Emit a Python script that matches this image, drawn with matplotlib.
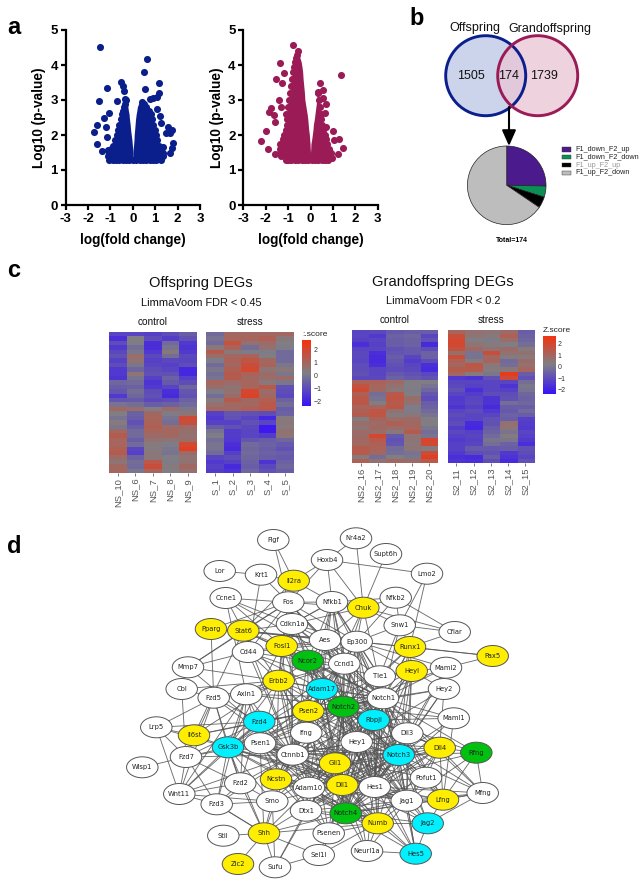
import matplotlib
matplotlib.use("Agg")
import matplotlib.pyplot as plt
from matplotlib.colors import LinearSegmentedColormap
from matplotlib.patches import Circle, Ellipse, Rectangle

plt.rcParams['font.family'] = ['Liberation Sans', 'DejaVu Sans']
plt.rcParams['axes.unicode_minus'] = False

W, H = 639, 886

###### PANEL A DATA ######
off_x = [-1.46, 0.65, 0.51, 1.19, -0.55, -0.43, -0.39, -1.16, 0.55, -1.49, -0.36, -0.73, -1.07, -1.28,
         -1.62, -1.73, -1.19, -1.15, -1.59, -1.40, 1.18, 1.06, 0.91, 0.76, 1.06, 1.21, 1.24, 1.55, 1.74,
         1.46, 1.68, 1.80, 1.77, 1.65, 1.35, -1.09]
off_y = [4.51, 4.17, 3.81, 3.50, 3.51, 3.40, 3.27, 3.33, 3.31, 2.96, 3.02, 2.97, 2.64, 2.48,
         2.28, 2.09, 2.22, 1.93, 1.75, 1.55, 3.19, 3.10, 3.05, 3.02, 2.73, 2.54, 2.33, 2.22, 2.14,
         2.05, 2.05, 1.78, 1.62, 1.50, 1.67, 1.57]
# extent of the solid mass of points, per p-value level
off_left_y = [1.3, 1.4, 1.5, 1.6, 1.7, 1.85, 2.0, 2.15, 2.3, 2.45, 2.6, 2.7, 2.8, 2.9, 3.0]
off_left_lo = [-1.05, -1.1, -1.08, -0.98, -0.88, -0.8, -0.73, -0.66, -0.6, -0.55, -0.5, -0.45, -0.4, -0.35, -0.3]
off_left_hi = [0.0, 0.0, 0.0, -0.01, -0.02, -0.04, -0.07, -0.1, -0.12, -0.15, -0.17, -0.2, -0.22, -0.25, -0.28]
off_right_y = [1.3, 1.4, 1.5, 1.6, 1.7, 1.85, 2.0, 2.15, 2.3, 2.45, 2.6, 2.7, 2.8, 2.9, 2.95]
off_right_lo = [0.0, 0.0, 0.0, 0.01, 0.03, 0.05, 0.06, 0.08, 0.1, 0.12, 0.15, 0.18, 0.2, 0.26, 0.32]
off_right_hi = [1.25, 1.33, 1.35, 1.25, 1.15, 1.08, 1.03, 0.97, 0.92, 0.87, 0.83, 0.72, 0.6, 0.5, 0.42]
off_base_x = [-0.9, -0.75, -0.6, -0.45, -0.3, -0.15, 0.0, 0.15, 0.3, 0.45, 0.6, 0.75, 0.9, 1.05]

gra_x = [-0.80, -0.55, -1.37, -1.19, -1.52, 1.35, 0.43, -1.26, -1.77, -1.85, -1.64, -1.59, -1.99, -2.22,
         -1.89, -1.59, -1.40, -1.32, 0.68, 0.64, 0.68, 1.01, 1.28, 1.06, 1.43, 1.24, 0.94, 0.54, 0.34, 0.54]
gra_y = [4.56, 4.40, 4.07, 3.76, 3.61, 3.72, 3.49, 3.50, 2.77, 2.66, 2.57, 2.38, 2.12, 1.83,
         1.61, 1.45, 3.00, 2.81, 2.89, 2.64, 2.24, 2.12, 1.90, 1.86, 1.63, 1.46, 1.33, 3.29, 3.24, 3.05]
gra_left_y = [1.3, 1.4, 1.5, 1.6, 1.75, 1.9, 2.0, 2.15, 2.3, 2.45, 2.6, 2.8, 3.0, 3.2, 3.4, 3.6, 3.8, 3.95, 4.1, 4.2, 4.3]
gra_left_lo = [-1.1, -1.3, -1.35, -1.38, -1.38, -1.25, -1.18, -1.1, -1.05, -1.05, -1.08, -1.0, -0.95, -0.9, -0.85,
               -0.82, -0.78, -0.74, -0.7, -0.66, -0.62]
gra_left_hi = [0.0, 0.0, 0.0, -0.01, -0.02, -0.04, -0.05, -0.08, -0.1, -0.12, -0.15, -0.2, -0.25, -0.27, -0.3,
               -0.33, -0.35, -0.38, -0.42, -0.47, -0.52]
gra_right_y = [1.3, 1.4, 1.5, 1.6, 1.75, 1.9, 2.0, 2.15, 2.3, 2.45, 2.6, 2.8, 3.0, 3.2]
gra_right_lo = [0.0, 0.0, 0.0, 0.01, 0.02, 0.06, 0.08, 0.11, 0.13, 0.17, 0.2, 0.24, 0.28, 0.3]
gra_right_hi = [0.8, 0.88, 0.9, 0.82, 0.74, 0.68, 0.64, 0.56, 0.5, 0.47, 0.45, 0.42, 0.38, 0.35]
gra_base_x = [-1.0, -0.85, -0.7, -0.55, -0.4, -0.25, -0.1, 0.05, 0.2, 0.35, 0.5, 0.65]
base_y = 1.3

###### PANEL B DATA ######
venn_counts = [1505, 174, 1739]
pie_names = ['F1_down_F2_up', 'F1_down_F2_down', 'F1_up_F2_up', 'F1_up_F2_down']
pie_values = [44, 8, 8, 114]
pie_colors = ['#4b1a8c', '#0b8f55', '#000000', '#bdbdbd']

###### PANEL C DATA ######
off_ctrl_names = ['NS_10', 'NS_6', 'NS_7', 'NS_8', 'NS_9']
off_ctrl = [[-1.2, -1.2, -1.3, -1.0, -0.6], [-1.7, 0.2, -1.0, -1.4, -0.9], [-1.0, 0.1, -1.7, -0.3, -1.5],
            [-1.5, -0.2, -1.7, -0.1, -1.6], [-1.1, 0.0, -1.5, 0.4, -1.5], [-0.9, 0.7, -1.1, -0.2, -1.1],
            [-1.3, 0.6, -1.3, -1.1, -1.2], [-1.0, 0.0, -1.2, -1.3, -1.0], [-1.5, -0.4, -1.0, -1.2, -1.9],
            [-1.5, 0.5, -0.9, -0.9, -1.9], [-1.6, -0.1, -1.3, -0.5, -1.3], [-0.4, -0.3, -1.6, -0.7, -1.0],
            [-0.6, -0.5, -1.5, -1.2, -0.4], [-0.8, -0.2, -1.0, -1.7, -0.8], [-1.5, -0.4, -0.9, -1.8, -0.9],
            [-0.8, -0.7, -1.1, -1.0, -0.5], [-0.1, -0.2, -0.6, -0.5, -0.3], [0.9, 0.7, 0.2, 0.8, 0.0],
            [0.2, -0.5, 0.9, 0.1, 0.5], [-0.1, -0.6, 1.0, -0.1, 1.8], [0.3, -0.9, 1.1, -0.2, 1.7],
            [0.0, -0.6, 1.2, 0.8, 0.8], [0.9, -0.3, 1.0, 1.0, 0.7], [1.3, -0.3, 0.8, 0.9, 0.6],
            [1.0, -0.6, 0.6, 0.5, 0.7], [1.0, -0.3, 0.3, 0.1, 1.9], [1.2, -1.2, 0.3, 0.0, 2.2],
            [1.3, -1.3, 0.4, -0.1, 0.8], [0.8, -0.5, 0.4, 0.2, 0.5], [0.5, -0.2, 1.4, 0.1, 0.6],
            [0.9, -0.3, 1.7, 0.3, 0.9], [1.0, 0.0, 1.0, 0.2, 0.6]]
off_str_names = ['S_1', 'S_2', 'S_3', 'S_4', 'S_5']
off_str = [[-0.3, 0.9, 0.9, 0.9, 0.9], [-0.1, 1.0, 1.0, 1.2, 0.4], [-0.3, 1.6, 0.6, 0.8, 0.2],
           [0.4, 1.1, -0.2, 0.6, 0.1], [1.3, 0.4, 0.1, 0.1, -0.3], [0.7, 0.9, 1.1, 0.2, -0.3],
           [0.1, 1.1, 1.5, 0.9, -0.3], [-0.3, 0.9, 1.7, 1.1, 0.0], [0.0, 1.2, 1.9, 0.5, 0.4],
           [-0.2, 1.3, 1.1, 0.8, 0.0], [-0.1, 1.3, 0.9, 0.7, 0.8], [1.0, 0.8, 1.0, 0.4, 0.0],
           [0.7, 0.5, 1.0, 1.4, -0.9], [0.1, 0.6, 2.0, 0.8, -1.0], [-0.2, 0.8, 2.1, 0.9, -1.1],
           [0.3, 1.3, 0.9, 1.2, -0.5], [0.6, 0.9, 0.9, 1.4, -0.2], [1.0, 0.9, 1.2, 1.4, -0.6],
           [-1.3, -0.8, -0.9, -1.0, -0.5], [-1.5, -0.9, -1.2, -1.9, 0.3], [-1.3, -1.3, -0.9, -1.2, 0.4],
           [-0.6, -0.9, -1.1, -2.2, 0.3], [-0.1, -1.4, -1.2, -2.2, 0.6], [0.1, -1.4, -1.2, -1.4, 0.5],
           [-0.2, -1.5, -0.8, -0.6, -0.4], [-0.1, -1.7, -0.3, -0.5, -0.7], [-0.1, -1.8, -0.4, -0.6, -0.9],
           [-0.3, -1.3, -0.3, -0.5, -0.6], [-1.2, -1.0, -0.4, -0.6, -0.7], [-1.5, -1.3, -0.5, -1.6, -0.5],
           [-1.3, -1.8, -0.6, -1.1, -0.4], [-1.4, -1.6, -0.4, -0.9, -0.6]]
gra_ctrl_names = ['NS2_16', 'NS2_17', 'NS2_18', 'NS2_19', 'NS2_20']
gra_ctrl = [[-1.2, -1.1, -0.7, -0.6, -0.6], [-1.2, -1.5, -0.5, -0.4, -1.2], [-1.3, -1.2, -0.6, -0.5, -0.9],
            [-1.7, -1.3, -0.6, -0.5, -1.8], [-1.2, -1.2, -0.9, -0.7, -1.0], [-1.1, -1.7, -0.8, -0.7, -0.5],
            [-1.1, -1.8, -0.6, -1.2, -0.5], [-1.2, -1.8, -0.8, -1.4, -1.0], [-1.0, -1.7, -0.9, -1.2, -1.7],
            [-1.0, -1.2, -1.0, -1.1, -1.8], [-0.9, -1.2, -0.7, -0.9, -1.1], [-1.1, -1.1, -0.5, -0.7, -0.9],
            [1.1, 1.1, 0.8, 0.2, 0.2], [1.6, 1.0, 0.6, 0.2, -0.1], [1.8, 0.9, 0.4, 0.1, -0.4],
            [1.2, -0.2, 1.4, 0.2, -0.8], [1.4, -0.1, 1.5, 0.7, -1.0], [1.5, 0.2, 1.3, 0.6, -0.6],
            [1.0, 1.0, 1.5, 0.1, -0.5], [1.2, 1.5, 0.6, 0.1, -0.3], [1.3, 1.5, 0.3, 0.4, -0.1],
            [0.2, 1.1, 0.7, 0.8, 0.2], [0.7, 0.8, 1.2, 0.9, 0.2], [0.5, 0.9, 0.7, 1.0, 0.0],
            [0.8, 0.7, 0.4, 1.3, -0.2], [0.8, 2.0, -0.7, 0.5, -0.1], [0.9, 1.3, -0.9, 0.5, 2.0],
            [0.9, 1.2, -0.8, 0.4, 1.9], [1.3, 1.1, -0.3, 0.5, 0.3], [1.4, 0.9, -0.2, -0.1, 1.7],
            [0.3, -0.2, 0.2, 0.0, 2.2], [1.2, 0.6, 0.9, 0.8, 1.4]]
gra_str_names = ['S2_11', 'S2_12', 'S2_13', 'S2_14', 'S2_15']
gra_str = [[1.0, 0.6, 0.5, 0.8, -0.6], [1.7, 0.5, 0.4, 1.2, -0.5], [1.9, 0.2, 0.1, 0.7, -0.4],
           [1.9, 0.5, 0.3, 0.2, -0.2], [1.6, 0.9, 0.6, 0.8, 0.3], [0.7, -0.1, 1.7, 0.6, 0.6],
           [1.7, -0.1, 0.9, 0.3, 0.3], [1.2, 0.3, 1.1, -0.3, 0.8], [0.9, 1.5, 0.4, -0.2, 0.6],
           [1.3, 1.3, 0.3, 0.4, 1.0], [0.9, 0.3, 0.0, 2.3, -0.6], [-1.5, -1.6, -0.9, 1.8, -0.9],
           [-1.2, -1.2, -1.2, -1.2, -0.2], [-1.1, -1.3, -1.2, -1.6, 0.0], [-0.9, -1.7, -1.2, -1.3, -0.1],
           [-1.2, -1.4, -1.0, -1.0, -0.4], [-1.5, -1.2, -1.6, -0.9, -0.5], [-1.4, -1.1, -1.6, -0.2, -0.4],
           [-1.6, -1.3, -1.8, -0.6, -0.6], [-1.2, -1.0, -1.5, -0.7, -0.3], [-1.0, -1.2, -1.2, -0.5, -0.6],
           [-1.2, -1.2, -0.9, -0.6, -1.3], [-1.0, -1.8, -0.9, 0.6, -1.4], [-1.4, -1.9, -0.6, 0.5, -1.5],
           [-1.1, -1.3, -0.5, -0.1, -1.2], [-1.3, -1.2, -0.3, 0.3, -1.3], [-1.5, -1.3, -0.1, 0.0, -1.5],
           [-1.3, -1.2, -0.2, -0.5, -1.7], [-1.3, -0.7, -0.7, -0.6, -0.9], [-1.5, -1.0, -0.9, -1.5, -1.0],
           [-1.7, -1.8, -0.6, -1.6, -1.2], [-1.6, -1.7, -1.0, -1.8, -0.9]]
z_ticks = [2, 1, 0, -1, -2]
z_ramp = [-2.35 + i * 0.1 for i in range(51)]

###### PANEL D DATA ######
node_names = ['Figf', 'Lor', 'Krt1', 'Il2ra', 'Ccne1', 'Fos', 'Nfkb1', 'Hoxb4', 'Cdkn1a', 'Pparg', 'Stat6', 'Aes',
              'Cd44', 'Fosl1', 'Ncor2', 'Mmp7', 'Erbb2', 'Adam17', 'Cbl', 'Fzd5', 'Axin1', 'Nr4a2', 'Supt6h', 'Lmo2',
              'Chuk', 'Nfkb2', 'Snw1', 'Cflar', 'Ep300', 'Runx1', 'Pax5', 'Ccnd1', 'Heyl', 'Maml2', 'Tle1', 'Hey2',
              'Notch1', 'Notch2', 'Psen2', 'Fzd4', 'Lrp5', 'Il6st', 'Ifng', 'Psen1', 'Gsk3b', 'Ctnnb1', 'Fzd7', 'Wisp1',
              'Fzd2', 'Ncstn', 'Adam10', 'Wnt11', 'Fzd3', 'Smo', 'Dtx1', 'Shh', 'Stil', 'Psenen', 'Sel1l', 'Zic2',
              'Sufu', 'Rbpjl', 'Maml1', 'Dll3', 'Hey1', 'Dll4', 'Rfng', 'Notch3', 'Gli1', 'Pofut1', 'Dll1', 'Hes1',
              'Mfng', 'Jag1', 'Lfng', 'Notch4', 'Numb', 'Jag2', 'Neurl1a', 'Hes5']
node_x = [273.3, 219.7, 261.0, 293.7, 225.7, 288.3, 332.0, 327.0, 292.0, 211.0, 243.3, 325.0,
          248.0, 281.7, 307.7, 188.0, 278.7, 322.0, 181.7, 213.7, 246.3, 356.0, 386.0, 427.0,
          363.3, 395.7, 399.7, 454.7, 356.7, 410.0, 492.7, 344.3, 411.7, 446.0, 379.7, 444.0,
          383.0, 343.3, 308.3, 259.3, 156.3, 194.0, 306.3, 260.0, 228.0, 292.7, 186.0, 142.3,
          240.3, 276.0, 309.0, 179.3, 216.7, 272.3, 306.0, 264.0, 223.3, 328.7, 318.7, 238.0,
          275.0, 373.7, 453.7, 407.3, 356.7, 439.7, 476.3, 398.7, 335.0, 426.0, 342.3, 374.7,
          482.7, 406.7, 443.0, 345.7, 377.7, 427.7, 367.0, 415.7]
node_y = [540.0, 571.0, 574.7, 580.7, 598.0, 602.3, 602.0, 560.0, 624.0, 629.0, 630.7, 640.0,
          652.0, 646.0, 660.7, 667.3, 680.7, 689.0, 689.0, 697.7, 694.3, 538.3, 554.0, 573.7,
          607.7, 597.7, 625.3, 632.0, 641.7, 647.0, 656.0, 663.7, 671.0, 667.7, 676.3, 689.0,
          698.3, 706.7, 711.0, 721.7, 727.3, 735.3, 732.7, 743.3, 747.3, 754.7, 757.0, 767.3,
          783.3, 779.3, 787.7, 794.0, 804.3, 801.3, 810.7, 833.3, 835.7, 833.3, 855.0, 864.0,
          867.3, 720.0, 718.3, 733.3, 742.0, 747.7, 752.7, 755.0, 763.3, 777.7, 785.0, 787.0,
          793.0, 800.7, 799.7, 813.3, 823.3, 823.3, 851.0, 853.7]
yellow_nodes = ['Il2ra', 'Pparg', 'Stat6', 'Fosl1', 'Erbb2', 'Chuk', 'Runx1', 'Pax5', 'Heyl', 'Psen2', 'Il6st',
                'Ncstn', 'Shh', 'Zic2', 'Dll4', 'Gli1', 'Dll1', 'Lfng', 'Numb']
green_nodes = ['Ncor2', 'Notch2', 'Rfng', 'Notch4']
cyan_nodes = ['Adam17', 'Fzd4', 'Gsk3b', 'Rbpjl', 'Notch3', 'Jag2', 'Hes5']
edges = {
    'Figf': 'Il2ra Fos', 'Lor': 'Krt1', 'Krt1': 'Il2ra Fos Cd44',
    'Il2ra': 'Hoxb4 Stat6 Fos Nfkb1', 'Ccne1': 'Fos Cdkn1a Stat6 Ccnd1 Axin1 Fosl1',
    'Pparg': 'Stat6 Fos Fzd5 Ep300', 'Mmp7': 'Fos Stat6 Erbb2 Cd44 Ctnnb1',
    'Cbl': 'Erbb2 Fzd5 Fzd7', 'Nr4a2': 'Hoxb4 Chuk', 'Supt6h': 'Chuk',
    'Hoxb4': 'Lmo2 Nfkb1 Chuk Fos', 'Lmo2': 'Snw1 Runx1',
    'Nfkb2': 'Chuk Cflar Ep300 Nfkb1 Snw1', 'Snw1': 'Cflar Chuk Ep300 Notch1 Tle1 Runx1',
    'Chuk': 'Cflar Nfkb1 Fos Ep300 Ccnd1 Notch1 Ctnnb1 Cdkn1a Aes', 'Cflar': 'Runx1',
    'Pax5': 'Runx1 Maml2 Ep300', 'Maml2': 'Notch1 Notch2 Notch3 Heyl Ep300 Dll3',
    'Hey2': 'Notch1 Notch2 Notch3 Heyl Hes1 Hey1 Dll4',
    'Maml1': 'Notch1 Notch2 Notch3 Notch4 Rbpjl Lfng',
    'Rfng': 'Lfng Dll4 Mfng Notch1 Notch3 Notch2 Jag1 Dll1', 'Mfng': 'Lfng Dll4 Notch1 Notch2 Notch3 Notch4 Jag1 Dll1 Jag2',
    'Lfng': 'Dll4 Notch1 Notch2 Notch3 Notch4 Jag1 Jag2 Dll1 Dll3 Hes1',
    'Pofut1': 'Notch1 Notch2 Notch3 Notch4 Dll1 Lfng Dll4 Jag1 Psen1',
    'Hes5': 'Jag1 Jag2 Notch1 Notch3 Notch2 Numb Neurl1a Hes1 Notch4 Dll1',
    'Neurl1a': 'Numb Notch1 Notch2 Dll1 Notch4 Jag1', 'Jag2': 'Notch1 Notch2 Notch3 Notch4 Jag1 Numb Hes1 Psen1',
    'Shh': 'Stil Zic2 Sufu Sel1l Smo Fzd2 Fzd3 Gsk3b Gli1 Ctnnb1 Notch4 Dll1 Numb Psen1',
    'Sufu': 'Sel1l Gli1 Smo Dtx1', 'Sel1l': 'Notch1 Notch4 Numb', 'Psenen': 'Psen1 Psen2 Notch1 Notch2 Notch3 Ncstn Adam10 Numb Dll1',
    'Wisp1': 'Fzd7', 'Lrp5': 'Il6st Wnt11 Fzd7 Fzd4 Gsk3b Fzd5', 'Il6st': 'Fzd4 Gsk3b Stat6 Erbb2 Notch1',
    'Fzd7': 'Gsk3b Wnt11 Fzd3 Fzd4 Fzd5 Ctnnb1 Fzd2 Psen1',
    'Wnt11': 'Fzd3 Fzd2 Fzd4 Fzd5 Gsk3b Ctnnb1 Smo Axin1', 'Fzd3': 'Gsk3b Shh Fzd2 Ctnnb1 Smo Axin1',
    'Fzd2': 'Gsk3b Ctnnb1 Fzd4 Smo Axin1 Fzd5', 'Fzd5': 'Gsk3b Ctnnb1 Axin1 Fzd4 Erbb2',
    'Fzd4': 'Gsk3b Ctnnb1 Axin1 Notch1 Notch2 Psen1', 'Axin1': 'Gsk3b Ctnnb1 Psen1 Erbb2 Notch1 Ccnd1 Notch2',
    'Smo': 'Gli1 Ctnnb1 Gsk3b Notch1 Dll1', 'Gsk3b': 'Ctnnb1 Psen1 Psen2 Notch1 Notch2 Notch3 Erbb2 Ccnd1 Dll1 Notch4 Fosl1 Adam17 Hes1 Numb Jag1',
    'Cd44': 'Fos Erbb2 Ctnnb1 Stat6 Fosl1 Notch1 Adam17 Ep300 Ncor2',
    'Stat6': 'Fos Cdkn1a Fosl1 Ep300 Ncor2 Erbb2 Ctnnb1 Notch1 Aes', 'Fos': 'Nfkb1 Cdkn1a Fosl1 Ep300 Ccnd1 Ctnnb1 Notch1 Erbb2 Aes Ncor2',
    'Cdkn1a': 'Nfkb1 Fosl1 Ep300 Ccnd1 Ctnnb1 Notch1 Erbb2 Aes Ncor2 Notch2',
    'Fosl1': 'Ep300 Ncor2 Erbb2 Ccnd1 Ctnnb1 Notch1 Adam17 Notch2 Psen2 Aes',
    'Nfkb1': 'Ep300 Ccnd1 Notch1 Notch2 Ctnnb1 Ncor2 Aes Hes1 Tle1 Adam17 Cdkn1a',
    'Aes': 'Ep300 Notch1 Notch2 Tle1 Ncor2 Hes1 Hey1 Adam17 Psen2 Rbpjl',
    'Ep300': 'Ccnd1 Notch1 Notch2 Notch3 Notch4 Ctnnb1 Ncor2 Hes1 Hey1 Runx1 Tle1 Heyl Rbpjl Gli1 Adam17',
    'Ccnd1': 'Notch1 Notch2 Ctnnb1 Ncor2 Erbb2 Adam17 Psen2 Rbpjl Hes1 Notch3 Gli1 Dll1',
    'Runx1': 'Notch1 Tle1 Notch2 Heyl Notch3 Hes1 Rbpjl',
    'Heyl': 'Notch1 Notch2 Notch3 Hes1 Hey1 Tle1 Dll3 Jag1 Rbpjl Notch4',
    'Tle1': 'Notch1 Notch2 Notch3 Ncor2 Hes1 Hey1 Rbpjl Notch4 Adam17 Psen2',
    'Ncor2': 'Notch1 Notch2 Notch3 Rbpjl Hes1 Hey1 Adam17 Erbb2 Ctnnb1 Psen2 Notch4 Gli1',
    'Erbb2': 'Notch1 Notch2 Adam17 Psen1 Psen2 Ctnnb1 Ncstn Adam10 Ifng Notch4 Notch3 Hes1',
    'Adam17': 'Notch1 Notch2 Notch3 Notch4 Psen1 Psen2 Adam10 Ncstn Ifng Rbpjl Ctnnb1 Hes1 Dll1 Jag1 Gli1',
    'Psen2': 'Psen1 Notch1 Notch2 Notch3 Notch4 Ncstn Adam10 Ctnnb1 Ifng Rbpjl Hey1 Jag1 Dll1 Dtx1',
    'Psen1': 'Notch1 Notch2 Notch3 Notch4 Ncstn Adam10 Ctnnb1 Ifng Jag1 Dll1 Numb Dtx1 Hes1 Gli1',
    'Ifng': 'Notch1 Notch2 Notch3 Ctnnb1 Hes1 Dll1 Jag1',
    'Ctnnb1': 'Notch1 Notch2 Notch3 Notch4 Adam10 Ncstn Gli1 Hes1 Hey1 Dll1 Dll3 Dll4 Jag1 Numb Dtx1 Rbpjl',
    'Ncstn': 'Notch1 Notch2 Notch3 Notch4 Adam10 Jag1 Dll1 Gli1 Numb',
    'Adam10': 'Notch1 Notch2 Notch3 Notch4 Jag1 Dll1 Dll3 Dll4 Gli1 Dtx1 Hes1 Numb',
    'Dtx1': 'Notch1 Notch2 Notch3 Notch4 Dll1 Numb Hes1 Jag1 Rbpjl',
    'Notch1': 'Notch2 Notch3 Notch4 Rbpjl Dll1 Dll3 Dll4 Jag1 Hes1 Hey1 Numb Gli1',
    'Notch2': 'Notch3 Notch4 Rbpjl Dll1 Dll3 Dll4 Jag1 Hes1 Hey1 Numb Gli1',
    'Notch3': 'Notch4 Rbpjl Dll1 Dll3 Dll4 Jag1 Hes1 Hey1 Numb Gli1',
    'Notch4': 'Rbpjl Dll1 Dll3 Dll4 Jag1 Hes1 Hey1 Numb Gli1',
    'Rbpjl': 'Dll1 Dll3 Dll4 Jag1 Hes1 Hey1 Gli1 Numb',
    'Dll3': 'Dll1 Dll4 Jag1 Hes1 Hey1', 'Dll4': 'Dll1 Jag1 Hes1 Hey1 Numb',
    'Hey1': 'Hes1 Dll1 Jag1 Gli1', 'Gli1': 'Dll1 Hes1 Numb', 'Dll1': 'Jag1 Hes1 Numb', 'Hes1': 'Jag1 Numb', 'Jag1': 'Numb',
}


def px_axes(x0, y0, x1, y1):
    return fig.add_axes([x0 / W, 1 - y1 / H, (x1 - x0) / W, (y1 - y0) / H])


def volcano(box, color, xs, ys, base_x, left, right):
    ax = px_axes(*box)
    # solid mass is a band, only its outer rim and the base row are dots
    ax.fill_betweenx(left[0], left[1], left[2], color=color, lw=0)
    ax.fill_betweenx(right[0], right[1], right[2], color=color, lw=0)
    ax.scatter(left[1], left[0], s=26, color=color, lw=0, clip_on=False)
    ax.scatter(right[2], right[0], s=26, color=color, lw=0, clip_on=False)
    ax.scatter(base_x, [base_y] * len(base_x), s=26, color=color, lw=0)
    ax.scatter(xs, ys, s=26, color=color, lw=0, clip_on=False, zorder=3)
    ax.set_xlim(-3, 3)
    ax.set_ylim(0, 5)
    ax.set_xticks([-3, -2, -1, 0, 1, 2, 3])
    ax.set_yticks([0, 1, 2, 3, 4, 5])
    ax.tick_params(width=1.6, length=3.6, labelsize=9.5, pad=2)
    for lab in ax.get_xticklabels() + ax.get_yticklabels():
        lab.set_fontweight('bold')
    ax.spines['top'].set_visible(False)
    ax.spines['right'].set_visible(False)
    ax.spines['left'].set_linewidth(1.6)
    ax.spines['bottom'].set_linewidth(1.6)
    ax.set_xlabel('log(fold change)', fontsize=9.8, fontweight='bold', labelpad=6)
    ax.set_ylabel('Log10 (p-value)', fontsize=9.8, fontweight='bold', labelpad=3)


def heat(box, values, names, title):
    ax = px_axes(*box)
    ax.imshow(values, aspect='auto', cmap=zmap, vmin=-2.35, vmax=2.7, interpolation='nearest')
    ax.set_xticks(range(5))
    ax.set_xticklabels(names, rotation=90, fontsize=6.8, color='#555555')
    ax.set_yticks([])
    ax.tick_params(axis='x', length=2.5, width=0.5, color='#444444', pad=1)
    for s in ax.spines.values():
        s.set_visible(False)
    ax.set_title(title, fontsize=7.2, color='#111111', pad=5)


def colorbar(box, label, label_x):
    ax = px_axes(*box)
    ax.imshow([[v] for v in z_ramp], aspect='auto', cmap=zmap, vmin=-2.35, vmax=2.7,
              origin='lower', extent=[0, 1, -2.35, 2.7])
    ax.set_xticks([])
    ax.yaxis.tick_right()
    ax.set_yticks(z_ticks)
    ax.set_yticklabels(['2', '1', '0', '\u22121', '\u22122'], fontsize=5, color='#333333')
    ax.tick_params(axis='y', length=0, pad=2)
    for s in ax.spines.values():
        s.set_visible(False)
    over.text(label_x, box[1] - 5.5, label, fontsize=6, color='#222222', ha='left', va='center')


fig = plt.figure(figsize=(W / 100, H / 100), dpi=100)

# full-figure layer in pixel units, for the diagram parts
over = fig.add_axes([0, 0, 1, 1], zorder=5)
over.set_xlim(0, W)
over.set_ylim(H, 0)
over.axis('off')
over.patch.set_alpha(0)

zmap = LinearSegmentedColormap.from_list('z', ['#3a14f5', '#7f7f85', '#f8300c'])

###### a ######
volcano((65.7, 30, 200, 205), '#0b1f8c', off_x, off_y, off_base_x,
        (off_left_y, off_left_lo, off_left_hi), (off_right_y, off_right_lo, off_right_hi))
volcano((243.3, 30, 377.7, 205), '#9a1b55', gra_x, gra_y, gra_base_x,
        (gra_left_y, gra_left_lo, gra_left_hi), (gra_right_y, gra_right_lo, gra_right_hi))

###### b ######
over.add_patch(Circle((485.7, 75.7), 40, fc='#ccd4ec', ec='none'))
over.add_patch(Circle((537.7, 75.7), 40, fc='#e9c4d4', ec='none', alpha=0.75))
over.add_patch(Circle((485.7, 75.7), 40, fc='none', ec='#0b1f8c', lw=2.1))
over.add_patch(Circle((537.7, 75.7), 40, fc='none', ec='#9a1b55', lw=2.1))
over.text(475, 28, 'Offspring', fontsize=9, ha='center', va='center', color='#111111')
over.text(550, 28.5, 'Grandoffspring', fontsize=9, ha='center', va='center', color='#111111')
for cx, count in zip([470.7, 508.3, 544.3], venn_counts):
    over.text(cx, 75.7, str(count), fontsize=9, ha='center', va='center', color='#111111')
over.annotate('', xy=(509, 146), xytext=(509, 107),
              arrowprops=dict(arrowstyle='-|>,head_width=0.42,head_length=0.95', color='black', lw=1.5, shrinkA=0, shrinkB=0))

pie_ax = px_axes(467.4, 146, 546, 224.6)
pie_ax.pie(pie_values, colors=pie_colors, startangle=90, counterclock=False, radius=1,
           wedgeprops=dict(edgecolor='#222222', linewidth=0.5))
pie_ax.set_xlim(-1, 1)
pie_ax.set_ylim(-1, 1)
for i, name in enumerate(pie_names):
    yy = 149.3 + i * 7.85
    over.add_patch(Rectangle((562.3, yy - 2.2), 8.7, 4.4, fc=pie_colors[i], ec='#333333', lw=0.3))
    over.text(575.7, yy, name, fontsize=5.2, va='center', color='#999999' if i == 2 else '#222222')
over.text(512, 240, 'Total=174', fontsize=5, fontweight='bold', ha='center', va='center')

###### c ######
heat((109, 332.3, 196.7, 473), off_ctrl, off_ctrl_names, 'control')
heat((206.3, 332.3, 294, 473), off_str, off_str_names, 'stress')
colorbar((302, 340, 311, 405.7), ':.score', 302)
over.text(201, 283.3, 'Offspring DEGs', fontsize=10.6, ha='center', va='center', color='#111111')
over.text(201, 302.7, 'LimmaVoom FDR < 0.45', fontsize=7.9, ha='center', va='center', color='#111111')

heat((352, 330, 438, 463), gra_ctrl, gra_ctrl_names, 'control')
heat((447.7, 330, 534, 463), gra_str, gra_str_names, 'stress')
colorbar((543, 335.7, 555, 394), 'Z.score', 543)
over.text(443, 281.7, 'Grandoffspring DEGs', fontsize=10.6, ha='center', va='center', color='#111111')
over.text(443, 301, 'LimmaVoom FDR < 0.2', fontsize=7.9, ha='center', va='center', color='#111111')

###### d ######
pos = dict(zip(node_names, zip(node_x, node_y)))
for src, targets in edges.items():
    for dst in targets.split():
        over.plot([pos[src][0], pos[dst][0]], [pos[src][1], pos[dst][1]], color='#555555', lw=0.65, alpha=0.85, zorder=1)
for name in node_names:
    color = 'white'
    if name in yellow_nodes:
        color = '#ffee00'
    elif name in green_nodes:
        color = '#00c010'
    elif name in cyan_nodes:
        color = '#00f0ff'
    over.add_patch(Ellipse(pos[name], 31.5, 21, fc=color, ec='#555555', lw=0.7, zorder=2))
    over.text(pos[name][0], pos[name][1], name, fontsize=4.9, family=['DejaVu Sans'], ha='center', va='center',
              color='#222222', zorder=3)

# panel letters
for letter, lx, ly in [('a', 7, 34), ('b', 409, 25), ('c', 7, 277), ('d', 7, 553)]:
    over.text(lx, ly, letter, fontsize=17, fontweight='bold', ha='left', va='baseline')

fig.savefig('out.png', dpi=100)
